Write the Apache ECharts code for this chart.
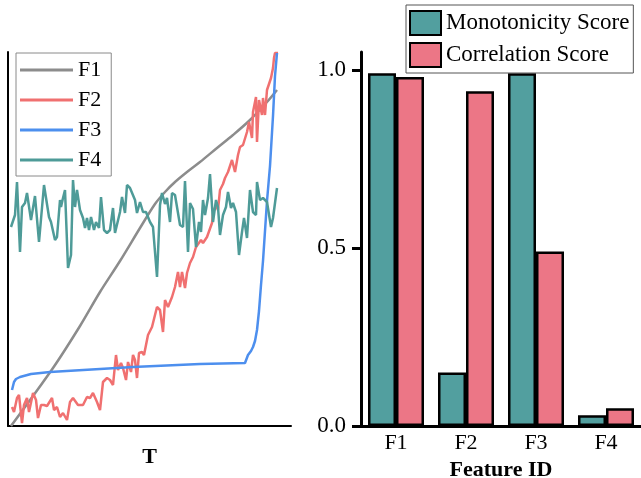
<!DOCTYPE html>
<html>
<head>
<meta charset="utf-8">
<script src="https://cdn.jsdelivr.net/npm/echarts@6/dist/echarts.min.js"></script>
<style>
  html, body { margin: 0; padding: 0; background: #fff; }
  #chart { width: 641px; height: 478px; }
</style>
</head>
<body>
<div id="chart"></div>
<script>
// left panel: feature curves over T, [t, value]
const f1 = [[0,0],[42,58],[69,100],[89,134],[109,165],[129,198],[144,222],[154,234],[164,244],[176,254],[189,264],[206,278],[222,291],[239,306],[256,324],[266,336]]
const f2 = [[1,19],[3,14],[6,28],[8,31],[11,3],[13,21],[16,28],[18,14],[22,33],[25,26],[27,8],[30,21],[33,21],[36,20],[41,28],[43,16],[46,19],[49,9],[52,13],[56,6],[59,24],[62,28],[67,21],[72,21],[76,29],[79,28],[82,33],[86,24],[89,16],[92,44],[96,48],[99,46],[102,41],[105,71],[107,56],[110,63],[112,58],[115,46],[117,64],[120,54],[122,71],[124,66],[126,48],[128,73],[131,74],[133,71],[135,81],[137,91],[141,99],[146,119],[149,116],[152,94],[154,126],[157,119],[161,129],[164,139],[167,154],[169,139],[171,154],[174,138],[176,153],[179,163],[182,169],[185,179],[187,178],[190,186],[192,183],[196,189],[198,188],[201,203],[202,213],[205,221],[207,216],[209,236],[212,242],[214,248],[217,254],[221,266],[224,254],[227,271],[229,279],[232,281],[236,294],[238,304],[241,288],[242,314],[245,329],[246,284],[248,326],[251,311],[252,328],[254,311],[256,336],[257,339],[260,348],[262,358],[263,368],[264,373],[267,373]]
const f3 = [[1,36],[3,44],[5,47],[9,49],[20,52],[39,54],[89,57],[122,59],[189,62],[234,63],[237,71],[240,75],[242,79],[244,85],[246,96],[248,115],[250,141],[252,165],[256,225],[259,260],[262,310],[264,350],[266,373]]
const f4 = [[0,199],[4,211],[6,244],[9,174],[11,219],[14,223],[16,233],[20,206],[24,230],[28,184],[33,241],[35,243],[38,209],[40,204],[44,186],[46,189],[49,226],[50,219],[52,228],[54,236],[57,158],[60,171],[62,246],[64,219],[66,236],[69,216],[72,208],[74,198],[76,208],[78,196],[80,209],[83,196],[85,204],[88,198],[90,229],[93,196],[96,193],[99,196],[102,218],[104,193],[109,214],[111,229],[114,213],[116,241],[119,238],[121,238],[124,226],[126,213],[129,224],[132,214],[135,214],[139,204],[142,199],[144,198],[146,149],[149,221],[151,233],[154,222],[156,228],[159,204],[161,233],[164,231],[166,229],[169,201],[172,199],[174,245],[177,174],[179,223],[182,217],[185,179],[188,204],[190,194],[192,226],[194,211],[197,228],[199,252],[202,204],[205,226],[207,219],[209,191],[212,211],[215,219],[217,234],[220,218],[222,223],[225,214],[228,171],[231,194],[233,208],[236,188],[239,236],[242,214],[245,211],[246,244],[249,226],[252,228],[256,224],[260,199],[262,208],[266,238]]

// right panel: scores per feature
const features = ['F1', 'F2', 'F3', 'F4']
const monotonicity = [0.99, 0.15, 0.99, 0.03]
const correlation = [0.98, 0.94, 0.49, 0.05]
const yTicks = [0, 0.5, 1.0]

const serif = "'Times New Roman', 'Liberation Serif', serif"
const lineColors = ['#8c8c8c', '#f07070', '#4d8fee', '#4e9b98']
const teal = '#529f9f'
const pink = '#ec7686'

const chart = echarts.init(document.getElementById('chart'))

const lineSeries = [f1, f2, f3, f4].map((d, i) => ({
  name: 'F' + (i + 1),
  type: 'line',
  xAxisIndex: 0,
  yAxisIndex: 0,
  data: d,
  symbol: 'none',
  smooth: i === 0 ? 0.3 : false,
  lineStyle: { width: 2.5, color: lineColors[i] },
  itemStyle: { color: lineColors[i] },
  z: i === 3 ? 3 : 2
}))

const option = {
  animation: false,
  textStyle: { fontFamily: serif, color: '#000' },
  grid: [
    { left: 8, top: 52, width: 283, height: 374, outerBoundsMode: 'none' },
    { left: 361, top: 52, width: 280, height: 374, outerBoundsMode: 'none' }
  ],
  legend: [
    {
      data: ['F1', 'F2', 'F3', 'F4'],
      orient: 'vertical',
      left: 16,
      top: 53,
      icon: 'rect',
      itemWidth: 53,
      itemHeight: 3,
      itemGap: 8,
      padding: [6, 10, 5, 4],
      borderColor: '#8a8a8a',
      borderWidth: 1,
      textStyle: { fontFamily: serif, fontSize: 22, color: '#000' }
    },
    {
      data: ['Monotonicity Score', 'Correlation Score'],
      orient: 'vertical',
      left: 406,
      top: 5,
      icon: 'rect',
      itemWidth: 31,
      itemHeight: 24,
      itemGap: 6,
      padding: [5, 4, 5, 3],
      borderColor: '#555',
      borderWidth: 1,
      textStyle: { fontFamily: serif, fontSize: 23, color: '#000' }
    }
  ],
  xAxis: [
    {
      type: 'value',
      gridIndex: 0,
      min: -3,
      max: 280,
      name: 'T',
      nameLocation: 'middle',
      nameGap: 20,
      nameTextStyle: { fontFamily: serif, fontSize: 22, fontWeight: 'bold', color: '#000' },
      axisLine: { show: true, onZero: false, lineStyle: { color: '#000', width: 2 } },
      axisTick: { show: false },
      axisLabel: { show: false },
      splitLine: { show: false }
    },
    {
      type: 'category',
      gridIndex: 1,
      data: features,
      name: 'Feature ID',
      nameLocation: 'middle',
      nameGap: 27,
      nameTextStyle: { fontFamily: serif, fontSize: 22, fontWeight: 'bold', color: '#000' },
      axisLine: { show: true, lineStyle: { color: '#000', width: 3 } },
      axisTick: { show: true, inside: true, alignWithLabel: true, length: 8, lineStyle: { color: '#000', width: 3 } },
      axisLabel: { fontFamily: serif, fontSize: 22, color: '#000', margin: 6 },
      splitLine: { show: false }
    }
  ],
  yAxis: [
    {
      type: 'value',
      gridIndex: 0,
      min: 0,
      max: 374,
      axisLine: { show: true, onZero: false, lineStyle: { color: '#000', width: 2 } },
      axisTick: { show: false },
      axisLabel: { show: false },
      splitLine: { show: false }
    },
    {
      type: 'value',
      gridIndex: 1,
      min: 0,
      max: 1.05,
      axisLine: { show: true, onZero: false, lineStyle: { color: '#000', width: 3 } },
      axisTick: { show: true, length: 9, customValues: yTicks, lineStyle: { color: '#000', width: 3 } },
      axisLabel: {
        customValues: yTicks,
        fontFamily: serif,
        fontSize: 23,
        color: '#000',
        margin: 15,
        formatter: v => v.toFixed(1)
      },
      splitLine: { show: false }
    }
  ],
  series: [
    ...lineSeries,
    {
      name: 'Monotonicity Score',
      type: 'bar',
      xAxisIndex: 1,
      yAxisIndex: 1,
      data: monotonicity,
      barWidth: 28,
      barGap: '0%',
      itemStyle: { color: teal, borderColor: '#000', borderWidth: 2.5 }
    },
    {
      name: 'Correlation Score',
      type: 'bar',
      xAxisIndex: 1,
      yAxisIndex: 1,
      data: correlation,
      barWidth: 28,
      barGap: '0%',
      itemStyle: { color: pink, borderColor: '#000', borderWidth: 2.5 }
    }
  ]
}

chart.setOption(option)
</script>
</body>
</html>
